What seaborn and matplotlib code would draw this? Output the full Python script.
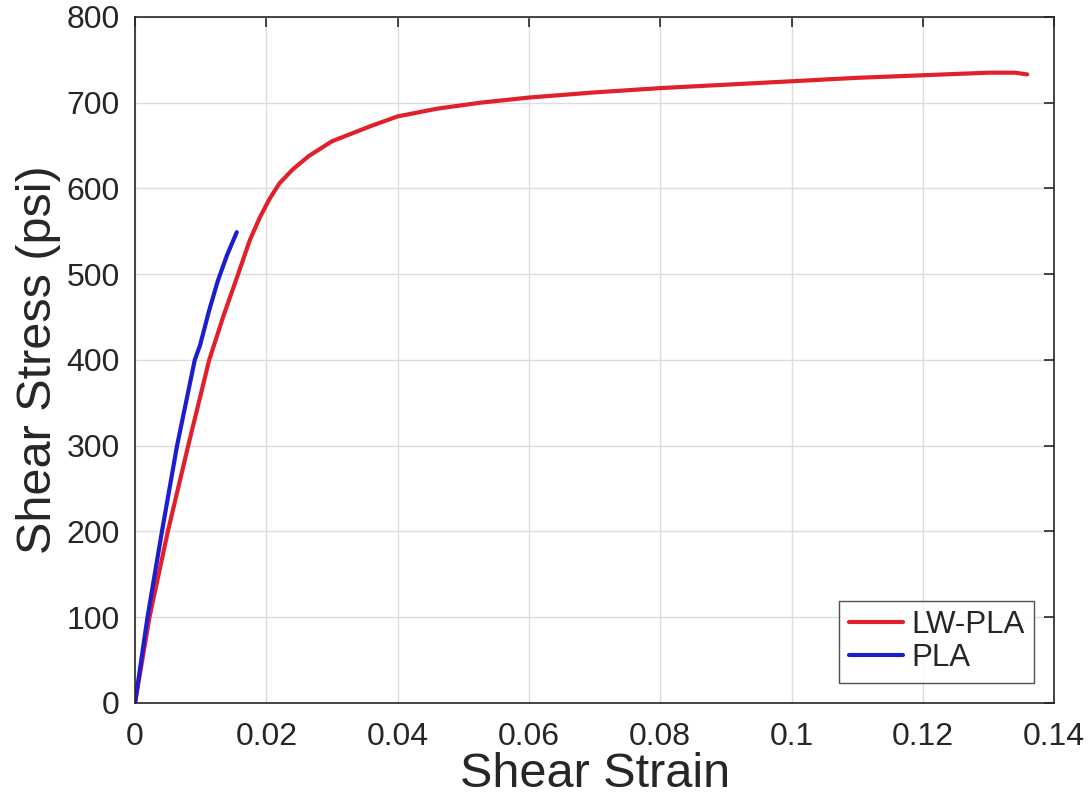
import numpy as np
import pandas as pd
import matplotlib
matplotlib.use("Agg")
import matplotlib.pyplot as plt
import seaborn as sns

# values
lw_strain = [0, 0.0022, 0.0050, 0.0081, 0.0113, 0.0135, 0.0157, 0.0175, 0.0190,
             0.0205, 0.0220, 0.0240, 0.0265, 0.0300, 0.0360, 0.0400, 0.0460,
             0.0526, 0.0600, 0.0700, 0.0800, 0.0900, 0.1000, 0.1100, 0.1200,
             0.1300, 0.1340, 0.1359]
lw_stress = [0, 100, 200, 300, 400, 452, 500, 540, 566,
             588, 606, 622, 638, 655, 673, 684, 693,
             700, 706, 712, 717, 721, 725, 729, 732,
             735, 735, 733]

pla_strain = [0, 0.0019, 0.0041, 0.0064, 0.0091, 0.0099, 0.0113, 0.0126, 0.0140, 0.0155]
pla_stress = [0, 100, 200, 300, 400, 417, 458, 492, 522, 549]

df = pd.concat([
    pd.DataFrame({"strain": lw_strain, "stress": lw_stress, "material": "LW-PLA"}),
    pd.DataFrame({"strain": pla_strain, "stress": pla_stress, "material": "PLA"}),
])

sns.set_style("white")
plt.rcParams["font.family"] = ["Liberation Sans", "DejaVu Sans"]

fig = plt.figure(figsize=(10.89, 8.07), dpi=100)
ax = fig.add_axes([0.124, 0.129, 0.844, 0.850])

sns.lineplot(data=df, x="strain", y="stress", hue="material",
             palette={"LW-PLA": "#e0202a", "PLA": "#1c1cd0"},
             linewidth=3, sort=False, estimator=None, ax=ax)

ax.set_xlim(0, 0.14)
ax.set_ylim(0, 800)
ax.set_xticks([0, 0.02, 0.04, 0.06, 0.08, 0.1, 0.12, 0.14])
ax.set_xticklabels(["0", "0.02", "0.04", "0.06", "0.08", "0.1", "0.12", "0.14"])
ax.set_yticks(range(0, 801, 100))
ax.grid(True, color="#dcdcdc", linewidth=1)
ax.tick_params(direction="in", top=True, right=True, length=7, width=1.2,
               labelsize=23, colors="#262626")
ax.tick_params(axis="x", pad=14)
ax.tick_params(axis="y", pad=11)
for s in ax.spines.values():
    s.set_color("#262626")
    s.set_linewidth(1.2)

ax.set_xlabel("Shear Strain", fontsize=35, color="#262626", labelpad=0)
ax.set_ylabel("Shear Stress (psi)", fontsize=35, color="#262626", labelpad=4)

leg = ax.legend(loc="lower right", fontsize=22.5, frameon=True, fancybox=False,
                handlelength=1.75, handletextpad=0.25, borderpad=0.3,
                labelspacing=0.1, borderaxespad=0.65)
leg.get_frame().set_edgecolor("#262626")
leg.get_frame().set_linewidth(1.0)
for line in leg.get_lines():
    line.set_linewidth(3)

fig.savefig("out.png", dpi=100)
